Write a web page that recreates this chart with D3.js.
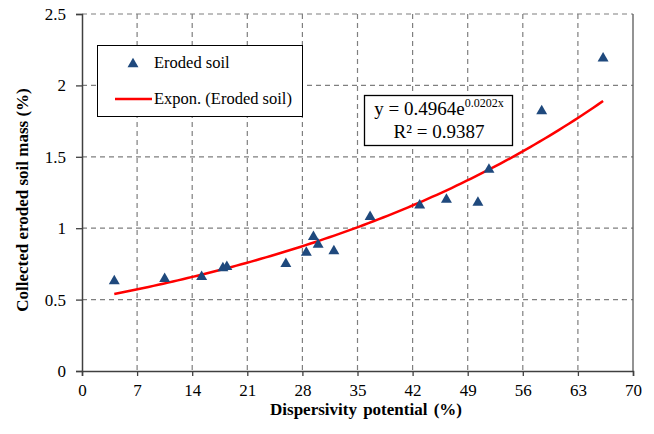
<!DOCTYPE html>
<html><head><meta charset="utf-8">
<script src="https://cdn.jsdelivr.net/npm/d3@7"></script>
<style>body{margin:0;background:#fff}svg{display:block}svg text{font-family:"Liberation Serif","DejaVu Serif","Times New Roman",serif}</style>
</head><body>
<svg id="c" width="654" height="434"></svg>
<script>
const dispersivity = [4.1, 10.5, 15.2, 17.9, 18.4, 25.9, 28.5, 29.4, 30.0, 32.0, 36.6, 42.9, 46.3, 50.3, 51.7, 58.4, 66.2];
const erodedMass   = [0.63, 0.645, 0.66, 0.72, 0.73, 0.75, 0.83, 0.94, 0.885, 0.84, 1.08, 1.16, 1.20, 1.18, 1.41, 1.82, 2.19];
const xTicks = [0, 7, 14, 21, 28, 35, 42, 49, 56, 63, 70];
const yTicks = [0, 0.5, 1, 1.5, 2, 2.5];
const fitA = 0.4964, fitB = 0.0202;

const svg = d3.select("#c");
const m = {l:82, r:633, t:14, b:371};
const x = d3.scaleLinear().domain([0,70]).range([m.l, m.r]);
const y = d3.scaleLinear().domain([0,2.5]).range([m.b, m.t]);

// grid
const g = svg.append("g");
g.selectAll(".gx").data(xTicks.slice(1, -1)).join("line")
  .attr("x1", d=>x(d)).attr("x2", d=>x(d)).attr("y1", m.t).attr("y2", m.b)
  .attr("stroke", "#7f7f7f").attr("stroke-width", 1.2).attr("stroke-dasharray", "5,4");
g.selectAll(".gy").data(yTicks.slice(1)).join("line")
  .attr("x1", m.l).attr("x2", m.r).attr("y1", d=>y(d)).attr("y2", d=>y(d))
  .attr("stroke", "#7f7f7f").attr("stroke-width", 1.2).attr("stroke-dasharray", "5,4");
// right border
svg.append("line").attr("x1", m.r).attr("x2", m.r).attr("y1", m.t).attr("y2", m.b)
  .attr("stroke", "#595959").attr("stroke-width", 1.3);

// axes
const xa = svg.append("g").attr("transform", `translate(0,${m.b})`)
  .call(d3.axisBottom(x).tickValues(xTicks).tickSize(5).tickPadding(8).tickFormat(d3.format("d")));
const ya = svg.append("g").attr("transform", `translate(${m.l},0)`)
  .call(d3.axisLeft(y).tickValues(yTicks).tickSize(6).tickPadding(10).tickFormat(d=>String(d)));
[xa, ya].forEach(a => {
  a.attr("font-family", null);
  a.select(".domain").attr("stroke", "#404040").attr("stroke-width", 1.5);
  a.selectAll(".tick line").attr("stroke", "#404040").attr("stroke-width", 1.3);
  a.selectAll("text").attr("font-size", 17).attr("fill", "#000");
});

// axis titles
svg.append("text").attr("x", 366).attr("y", 415).attr("text-anchor", "middle")
  .attr("font-weight", "bold").attr("font-size", 17)
  .attr("word-spacing", 2).text("Dispersivity potential (%)");
svg.append("text").attr("transform", "translate(28,200) rotate(-90)").attr("text-anchor", "middle")
  .attr("font-weight", "bold").attr("font-size", 17)
  .text("Collected eroded soil mass (%)");

// trend line
const x0 = d3.min(dispersivity), x1 = d3.max(dispersivity);
const trend = d3.range(0, 101).map(i => { const xv = x0 + (x1 - x0) * i / 100; return [xv, fitA * Math.exp(fitB * xv)]; });
svg.append("path").datum(trend)
  .attr("d", d3.line().x(d=>x(d[0])).y(d=>y(d[1])))
  .attr("fill", "none").attr("stroke", "#ff0000").attr("stroke-width", 2.5);

// points
const tri = d3.symbol().type(d3.symbolTriangle).size(52);
svg.selectAll(".pt").data(dispersivity.map((d,i)=>[d, erodedMass[i]])).join("path")
  .attr("d", tri).attr("transform", d=>`translate(${x(d[0])},${y(d[1])})`)
  .attr("fill", "#1f497d");

// legend
const lg = svg.append("g");
lg.append("rect").attr("x", 97.5).attr("y", 45.5).attr("width", 205).attr("height", 71)
  .attr("fill", "#fff").attr("stroke", "#000").attr("stroke-width", 1);
lg.append("path").attr("d", tri).attr("transform", "translate(133,64)").attr("fill", "#1f497d");
lg.append("text").attr("x", 154).attr("y", 68).attr("font-size", 16.5).text("Eroded soil");
lg.append("line").attr("x1", 115).attr("x2", 152).attr("y1", 99).attr("y2", 99)
  .attr("stroke", "#ff0000").attr("stroke-width", 2.5);
lg.append("text").attr("x", 154).attr("y", 104).attr("font-size", 16.5).text("Expon. (Eroded soil)");

// equation box
const eb = svg.append("g");
eb.append("rect").attr("x", 364.5).attr("y", 95.5).attr("width", 148).attr("height", 50)
  .attr("fill", "#fff").attr("stroke", "#000").attr("stroke-width", 1.3);
const t1 = eb.append("text").attr("x", 439).attr("y", 115).attr("text-anchor", "middle")
  .attr("font-size", 19);
t1.append("tspan").text("y = " + fitA + "e");
t1.append("tspan").attr("font-size", 12).attr("dy", -8).text(fitB);
t1.append("tspan").attr("font-size", 12).text("x");
eb.append("text").attr("x", 439).attr("y", 138).attr("text-anchor", "middle")
  .attr("font-size", 19).text("R² = 0.9387");
</script>
</body></html>
